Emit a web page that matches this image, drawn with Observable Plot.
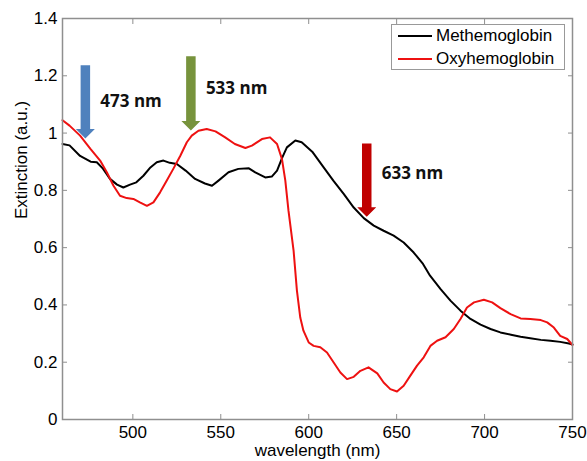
<!DOCTYPE html>
<html>
<head>
<meta charset="utf-8">
<script src="https://cdn.jsdelivr.net/npm/d3@7"></script>
<script src="https://cdn.jsdelivr.net/npm/@observablehq/plot@0.6"></script>
<style>
  html, body { margin: 0; padding: 0; background: #fff; }
  #wrap { position: relative; width: 587px; height: 461px; font-family: "Liberation Sans", Arial, sans-serif; }
  #legend { position: absolute; left: 391px; top: 24px; width: 174px; height: 46px; border: 1px solid #999; background: #fff; box-sizing: border-box; font-size: 17px; color: #000; }
  .row { position: absolute; left: 6px; height: 20px; display: flex; align-items: center; }
  .swatch { width: 34px; height: 0; border-top: 2px solid; margin-right: 4px; }
</style>
</head>
<body>
<div id="wrap"></div>
<script>
// Data
const wavelengthsMet = [460,464,470,476,479.5,483,487,491,494.6,498.4,502,506,510,513.6,517.4,521,525,530,535.4,541,545,548.7,554.4,560,566,569.6,575.3,579,582,585,587.6,592.4,596,602,608.5,614,620,625.6,631.3,637,642.6,648.3,654,659.7,665,669,675,680.6,686.3,692,697.7,703.4,709,715,720.5,726,732,737.5,743,748,750];
const methemoglobin  = [0.962,0.957,0.92,0.90,0.898,0.876,0.84,0.82,0.81,0.82,0.828,0.851,0.88,0.898,0.904,0.896,0.892,0.869,0.84,0.824,0.816,0.834,0.863,0.875,0.877,0.863,0.845,0.848,0.869,0.915,0.95,0.974,0.968,0.935,0.88,0.834,0.787,0.74,0.703,0.677,0.659,0.642,0.618,0.583,0.543,0.502,0.455,0.415,0.38,0.351,0.331,0.316,0.304,0.296,0.289,0.284,0.278,0.275,0.271,0.265,0.262];

const wavelengthsOxy = [460,464,470,476,481.4,485.2,489,492.7,496.5,500.3,504,508,511.7,515.5,519.3,523,527,530.7,533.5,537.3,542,547,552.5,558,564,567.7,573.4,578,582,584.8,586.7,588.5,591.4,593.3,595.2,597,600,602.8,606.6,610.4,614.2,618,621.8,625.6,629.4,634,639,642.6,646.4,650.2,654,657.8,661.6,665.4,669.2,673,677.8,682.5,686.3,690,694,699.6,704.3,709,714.8,720.5,726,732,735.6,739.4,743,747,750];
const oxyhemoglobin  = [1.045,1.026,0.991,0.944,0.904,0.863,0.816,0.781,0.773,0.77,0.758,0.746,0.758,0.793,0.834,0.875,0.921,0.968,0.991,1.008,1.014,1.006,0.985,0.962,0.948,0.956,0.979,0.985,0.962,0.909,0.834,0.729,0.59,0.45,0.356,0.31,0.269,0.257,0.252,0.234,0.199,0.164,0.141,0.149,0.17,0.182,0.161,0.129,0.106,0.098,0.118,0.153,0.188,0.217,0.257,0.275,0.287,0.316,0.351,0.391,0.409,0.418,0.409,0.389,0.368,0.353,0.351,0.347,0.339,0.321,0.292,0.281,0.26];

const seriesNames = ["Methemoglobin", "Oxyhemoglobin"];
const xTicks = [500, 550, 600, 650, 700, 750];
const yTicks = [0, 0.2, 0.4, 0.6, 0.8, 1, 1.2, 1.4];

const arrowNm     = [473, 533, 633];
const arrowLabels = ["473 nm", "533 nm", "633 nm"];
const arrowTop    = [1.237, 1.268, 0.964];
const arrowTip    = [0.981, 1.009, 0.708];
const labelValue  = [1.111, 1.156, 0.859];

// Styles
const seriesColors = ["#000000", "#ee1111"];
const arrowColors = ["#4f81bd", "#77933c", "#c00000"];

const W = 587, H = 461;
const mL = 62, mR = 15, mT = 18, mB = 42;
const xDomain = [460, 750], yDomain = [0, 1.4];
const pxPerNm = (W - mL - mR) / (xDomain[1] - xDomain[0]);
const pxPerUnit = (H - mT - mB) / (yDomain[1] - yDomain[0]);

const met = wavelengthsMet.map((w, i) => ({w, v: methemoglobin[i]}));
const oxy = wavelengthsOxy.map((w, i) => ({w, v: oxyhemoglobin[i]}));

// block-arrow polygons (shaft + head) built from the arrow data
const shaftHalf = 4.75 / pxPerNm, headHalf = 9.5 / pxPerNm, headLen = 9.5 / pxPerUnit;
const arrowPolys = arrowNm.map((w, i) => {
  const t = arrowTop[i], p = arrowTip[i], b = p + headLen;
  return [
    {w: w - shaftHalf, v: t}, {w: w + shaftHalf, v: t}, {w: w + shaftHalf, v: b},
    {w: w + headHalf, v: b}, {w: w, v: p}, {w: w - headHalf, v: b},
    {w: w - shaftHalf, v: b}, {w: w - shaftHalf, v: t}
  ];
});
const labels = arrowNm.map((w, i) => ({w, v: labelValue[i], text: arrowLabels[i]}));

const fmt = d => String(+d.toFixed(1));
const axisColor = "#8f8f8f";

const chart = Plot.plot({
  width: W, height: H,
  marginLeft: mL, marginRight: mR, marginTop: mT, marginBottom: mB,
  style: {fontFamily: '"Liberation Sans", Arial, sans-serif', fontSize: "17px", color: "#000", background: "#fff"},
  x: {domain: xDomain, ticks: xTicks},
  y: {domain: yDomain, ticks: yTicks},
  marks: [
    Plot.line(met, {x: "w", y: "v", stroke: seriesColors[0], strokeWidth: 2}),
    Plot.line(oxy, {x: "w", y: "v", stroke: seriesColors[1], strokeWidth: 2}),
    ...arrowPolys.map((poly, i) => Plot.line(poly, {x: "w", y: "v", fill: arrowColors[i], stroke: "none", curve: "linear-closed"})),
    Plot.text(labels, {x: "w", y: "v", text: "text", textAnchor: "start", dx: 15, fontWeight: "bold", fontSize: 17, fontFamily: '"Open Sans", sans-serif', fill: "#111"}),
    Plot.frame({stroke: axisColor, strokeWidth: 1.5}),
    // tick labels
    Plot.axisX({anchor: "bottom", ticks: xTicks, tickSize: 0, tickPadding: 6, tickFormat: fmt, fill: "#000", fontSize: 17, label: null}),
    Plot.axisY({anchor: "left", ticks: yTicks, tickSize: 0, tickPadding: 5, tickFormat: fmt, fill: "#000", fontSize: 17, label: null}),
    // inward tick marks on all four sides
    Plot.axisX({anchor: "bottom", ticks: xTicks, tickSize: 5, dy: -5, tickFormat: () => "", stroke: axisColor, label: null}),
    Plot.axisX({anchor: "top", ticks: xTicks, tickSize: 5, dy: 5, tickFormat: () => "", stroke: axisColor, label: null}),
    Plot.axisY({anchor: "left", ticks: yTicks, tickSize: 5, dx: 5, tickFormat: () => "", stroke: axisColor, label: null}),
    Plot.axisY({anchor: "right", ticks: yTicks, tickSize: 5, dx: -5, tickFormat: () => "", stroke: axisColor, label: null}),
    // axis titles
    Plot.text(["wavelength (nm)"], {frameAnchor: "bottom", dy: 36, fontSize: 17, fill: "#000"}),
    Plot.text(["Extinction (a.u.)"], {frameAnchor: "left", dx: -41, rotate: -90, fontSize: 17, fill: "#000"})
  ]
});

const wrap = document.getElementById("wrap");
wrap.appendChild(chart);
const legend = document.createElement("div");
legend.id = "legend";
seriesNames.forEach((name, i) => {
  const row = document.createElement("div");
  row.className = "row";
  row.style.top = (i === 0 ? 1 : 24) + "px";
  const sw = document.createElement("span");
  sw.className = "swatch";
  sw.style.borderColor = seriesColors[i];
  const t = document.createElement("span");
  t.textContent = name;
  row.appendChild(sw); row.appendChild(t);
  legend.appendChild(row);
});
wrap.appendChild(legend);
</script>
</body>
</html>
